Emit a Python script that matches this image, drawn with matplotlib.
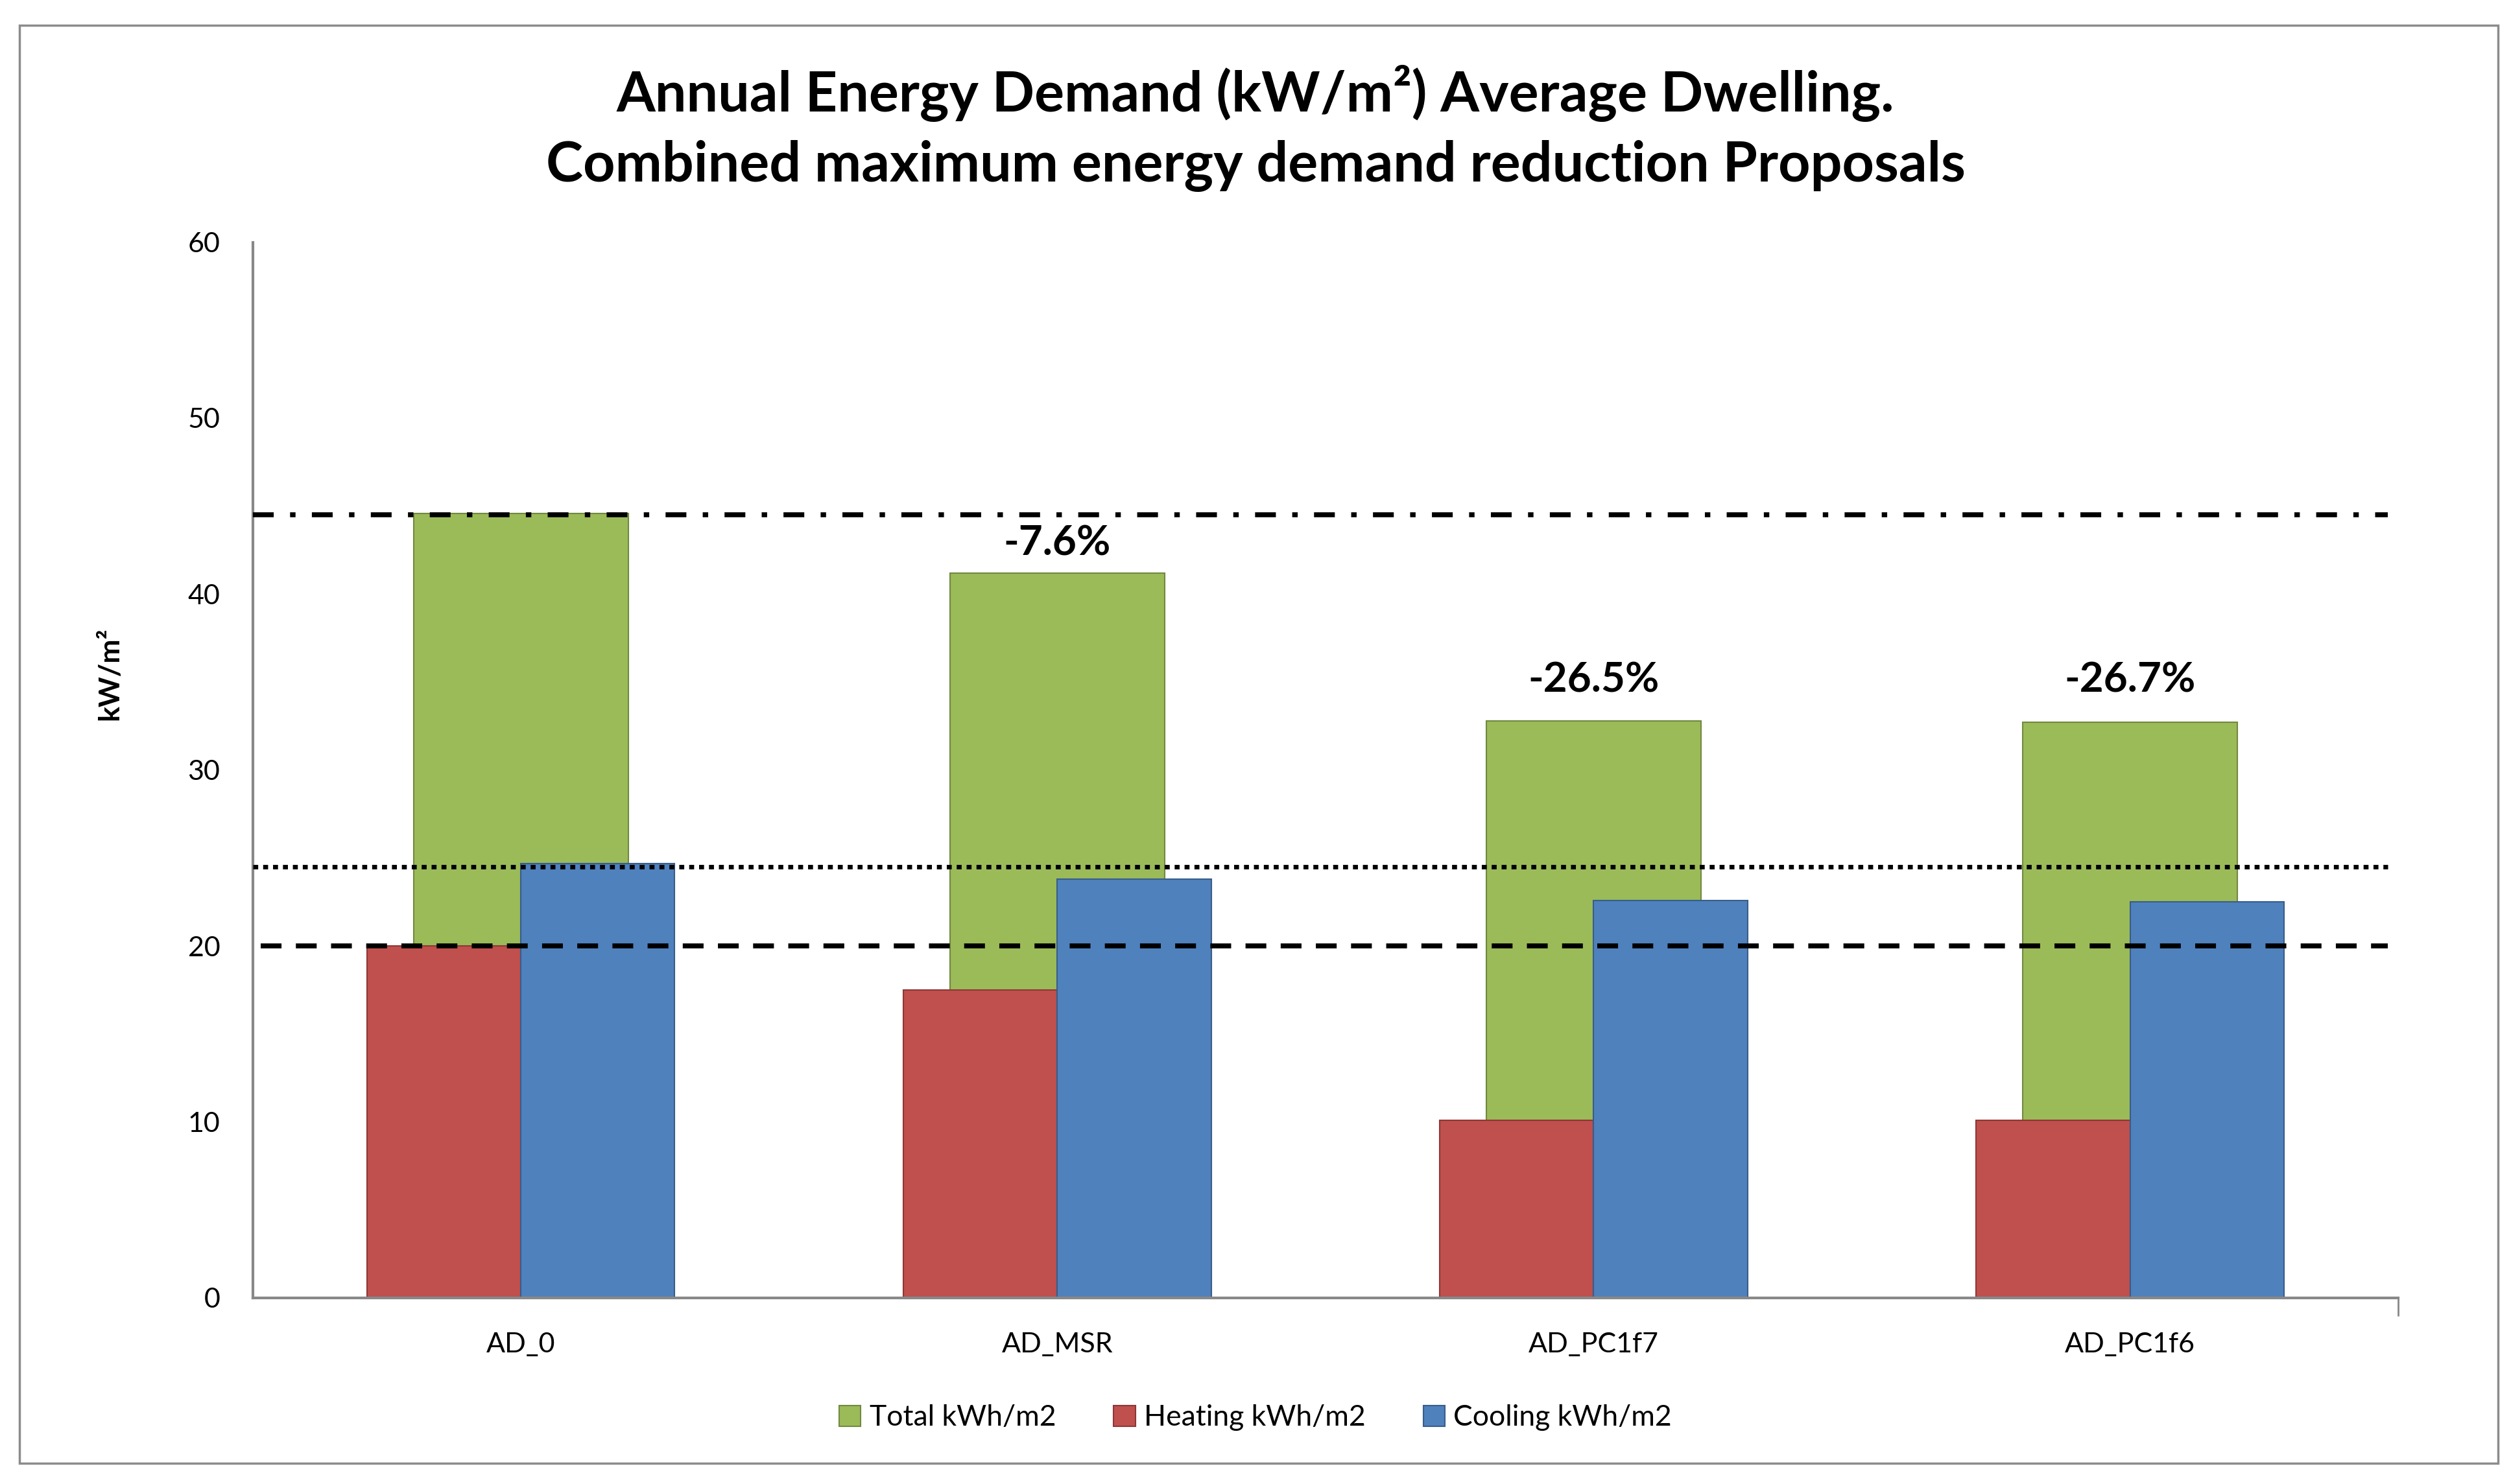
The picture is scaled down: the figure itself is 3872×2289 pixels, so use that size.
import matplotlib
matplotlib.use('Agg')
import matplotlib.pyplot as plt
import matplotlib.patches as mpatches
import numpy as np

plt.rcParams['font.family'] = ['Lato', 'DejaVu Sans']

#---------------------data--------------------------------------------------
cases = ['AD_0', 'AD_MSR', 'AD_PC1f7', 'AD_PC1f6']
total = [44.6, 41.2, 32.8, 32.7]
heating = [20.0, 17.5, 10.1, 10.1]
cooling = [24.7, 23.8, 22.6, 22.5]
reductions = ['', '-7.6%', '-26.5%', '-26.7%']
label_y = [0, 42.9, 35.1, 35.1]

ref_total = 44.5    # dash-dot line
ref_cooling = 24.5  # dotted line
ref_heating = 20.0  # dashed line

green = '#9BBB59'
red = '#C0504D'
blue = '#4F81BD'

fig = plt.figure(figsize=(38.72, 22.89), dpi=100)
ax = fig.add_axes([0.1006, 0.1254, 0.8545, 0.7114])

x = np.arange(len(cases))
ax.bar(x, total, width=0.4, color=green, edgecolor='#71893F', linewidth=1.5,
       zorder=1, label='Total kWh/m2')
ax.bar(x - 0.1435, heating, width=0.287, color=red, edgecolor='#8C3836',
       linewidth=1.5, zorder=2, label='Heating kWh/m2')
ax.bar(x + 0.1435, cooling, width=0.287, color=blue, edgecolor='#385D8A',
       linewidth=1.5, zorder=2, label='Cooling kWh/m2')

xl = [-0.5, 3.48]
ax.plot(xl, [ref_total]*2, color='black', lw=5.5, zorder=3,
        dashes=[4.2, 3.3, 1.1, 3.3])
ax.plot(xl, [ref_cooling]*2, color='black', lw=5.0, zorder=3,
        dashes=[1.1, 1.1])
ax.plot([-0.485, 3.48], [ref_heating]*2, color='black', lw=5.5, zorder=3,
        dashes=[4.2, 2.9])

for i in range(len(cases)):
    if reductions[i]:
        ax.text(x[i], label_y[i], reductions[i], ha='center', va='center',
                fontsize=46, fontweight='bold', zorder=4)

ax.set_xlim(-0.5, 3.5)
ax.set_ylim(0, 60)
ax.set_yticks(range(0, 61, 10))
ax.set_xticks(x)
ax.set_xticklabels(cases)
ax.set_xticks([1, 2, 3, 3.5], minor=True)
ax.tick_params(axis='x', which='major', length=0, pad=38, labelsize=31)
ax.tick_params(axis='x', which='minor', length=20, width=2, color='#888888',
               direction='out')
ax.tick_params(axis='y', length=0, pad=36, labelsize=31)
for s in ['top', 'right']:
    ax.spines[s].set_visible(False)
for s in ['left', 'bottom']:
    ax.spines[s].set_color('#888888')
    ax.spines[s].set_linewidth(3)

fig.text(0.5, 0.937, 'Annual Energy Demand (kW/m²) Average Dwelling.',
         ha='center', va='center', fontsize=62, fontweight='bold')
fig.text(0.5, 0.888, 'Combined maximum energy demand reduction Proposals',
         ha='center', va='center', fontsize=62, fontweight='bold')
fig.text(0.0436, 0.546, 'kW/m²', rotation=90, ha='center', va='center',
         fontsize=32, fontweight='bold')

handles, labels = ax.get_legend_handles_labels()
fig.legend(handles, labels, loc='center', bbox_to_anchor=(0.5, 0.0446),
           ncol=3, frameon=False, fontsize=32, handlelength=0.75,
           handleheight=0.75, handletextpad=0.3, columnspacing=2.0)

fig.patches.append(mpatches.Rectangle((0.0077, 0.014), 0.9872, 0.969,
                                      transform=fig.transFigure, fill=False,
                                      edgecolor='#8c8c8c', linewidth=2.5))

plt.savefig('out.png', dpi=100)
